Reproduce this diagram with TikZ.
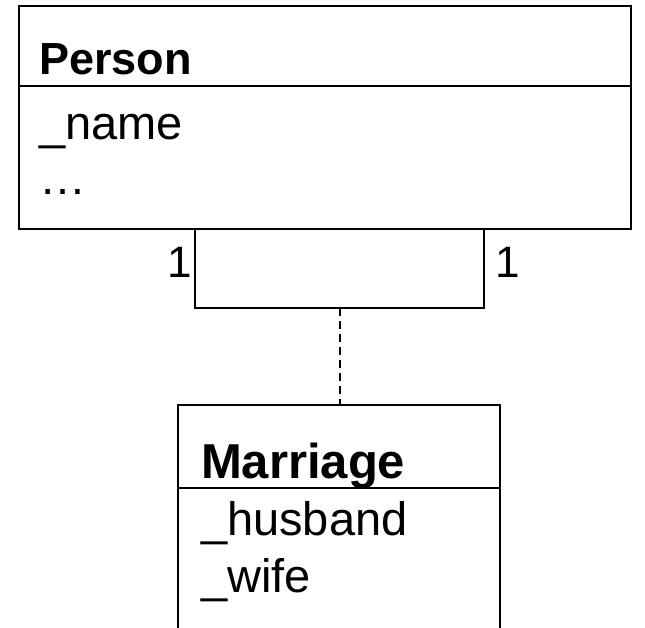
\documentclass[tikz,border=0pt]{standalone}
\usepackage{fontspec}
\setmainfont{Liberation Sans}
\begin{document}
\begin{tikzpicture}[x=1pt,y=-1pt,
  line width=2pt,
  classbox/.style={draw, line width=2pt, rectangle, inner sep=0pt, anchor=north west},
  title/.style={anchor=base west, inner sep=0pt, font=\fontsize{45}{54}\selectfont\bfseries},
  attr/.style={anchor=base west, inner sep=0pt, font=\fontsize{47}{56}\selectfont},
  mult/.style={anchor=base, inner sep=0pt, font=\fontsize{44}{52}\selectfont}]
\useasboundingbox (0,0) rectangle (645,628);
% Person class
\node[classbox, minimum width=612pt, minimum height=223pt] (person) at (18,5) {};
\draw (18,86) -- (630,86);
\node[title] (ptitle) at (38,75) {Person};
\node[attr] (pname) at (38,140) {\_name};
\node[attr] (pdots) at (38,195) {\dots};
% association
\coordinate (aL) at (195,228);
\coordinate (aR) at (484,228);
\coordinate (aM) at (340,308);
\draw (aL) -- (195,308) -- (484,308) -- (aR);
\node[mult] (m1) at (180,278) {1};
\node[mult] (m2) at (508,278) {1};
% Marriage class (open at the bottom)
\coordinate (mtop) at (340,405);
\draw (178,628) -- (178,405) -- (500,405) -- (500,628);
\draw (178,488) -- (500,488);
\node[title, font=\fontsize{49}{58}\selectfont\bfseries] (mtitle) at (200,478) {Marriage};
\node[attr] (mh) at (200,535) {\_husband};
\node[attr] (mw) at (200,592) {\_wife};
% association class link
\draw[dashed, dash pattern=on 8pt off 5pt] (aM) -- (mtop);
\end{tikzpicture}
\end{document}
